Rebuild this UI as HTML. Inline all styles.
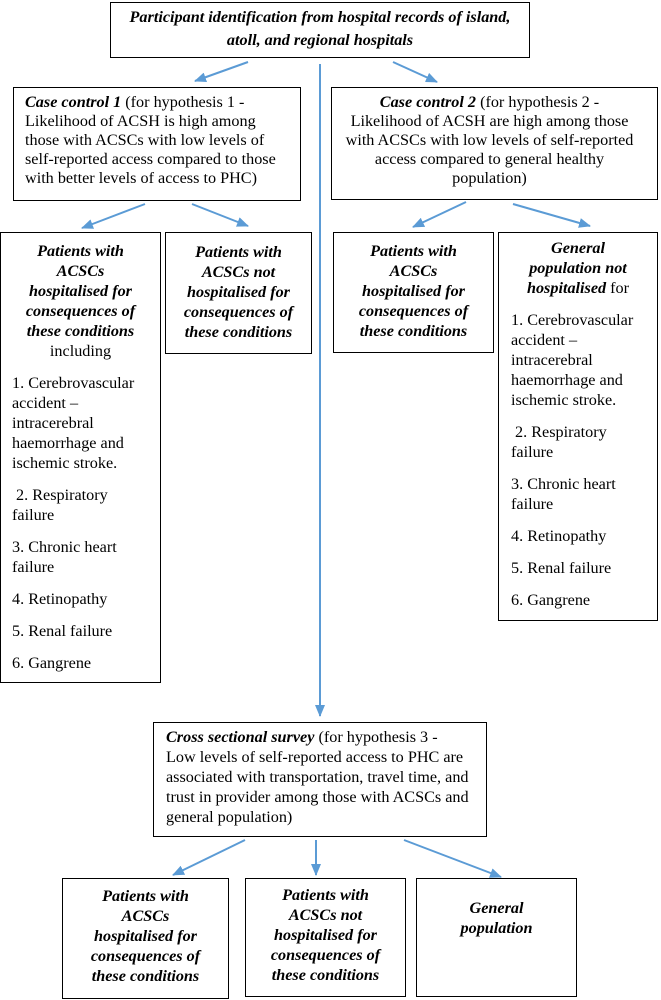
<!DOCTYPE html>
<html><head><meta charset="utf-8"><style>
body{margin:0;width:661px;height:1000px;position:relative;background:#fff;font-family:"Liberation Serif",serif;font-size:16.2px;color:#000;overflow:hidden}
.b{position:absolute;border:1.3px solid #000;box-sizing:border-box;line-height:20px;white-space:nowrap}
.c{text-align:center}
.bi{font-weight:bold;font-style:italic}
p{margin:0 0 12px 0}
svg{position:absolute;left:0;top:0}
</style></head><body>
<svg width="661" height="1000">
<defs><marker id="a" markerWidth="12" markerHeight="10" refX="11" refY="5" orient="auto" markerUnits="userSpaceOnUse"><path d="M0,0 L12,5 L0,10 z" fill="#5b9bd5"/></marker></defs>
<g stroke="#5b9bd5" stroke-width="2" fill="none" marker-end="url(#a)">
<line x1="248" y1="62" x2="195" y2="81"/>
<line x1="393" y1="62" x2="437" y2="82"/>
<line x1="320" y1="64" x2="320" y2="716"/>
<line x1="145" y1="204" x2="82" y2="228"/>
<line x1="192" y1="204" x2="248" y2="226"/>
<line x1="466" y1="202" x2="413" y2="227"/>
<line x1="513" y1="204" x2="590" y2="226"/>
<line x1="245" y1="840" x2="173" y2="875"/>
<line x1="316" y1="840" x2="316" y2="875"/>
<line x1="404" y1="840" x2="501" y2="877"/>
</g></svg>

<div class="b c bi" style="left:110px;top:2px;width:420px;height:56px;padding-top:3px;line-height:23px">Participant identification from hospital records of island,<br>atoll, and regional hospitals</div>

<div class="b" style="left:13px;top:87px;width:288px;height:114px;padding:5px 0 0 11px;line-height:19px"><span class="bi">Case control 1</span> (for hypothesis 1 -<br>Likelihood of ACSH is high among<br>those with ACSCs with low levels of<br>self-reported access compared to those<br>with better levels of access to PHC)</div>

<div class="b c" style="left:331px;top:87px;width:327px;height:113px;padding:5px 10px 0 0;line-height:19px"><span class="bi">Case control 2</span> (for hypothesis 2 -<br>Likelihood of ACSH are high among those<br>with ACSCs with low levels of self-reported<br>access compared to general healthy<br>population)</div>

<div class="b" style="left:0;top:232px;width:161px;height:451px;padding:8px 0 0 11px">
<p class="c" style="margin-left:-11px"><span class="bi">Patients with<br>ACSCs<br>hospitalised for<br>consequences of<br>these conditions</span><br>including</p>
<p>1. Cerebrovascular<br>accident –<br>intracerebral<br>haemorrhage and<br>ischemic stroke.</p>
<p>&nbsp;2. Respiratory<br>failure</p>
<p>3. Chronic heart<br>failure</p>
<p>4. Retinopathy</p>
<p>5. Renal failure</p>
<p>6. Gangrene</p></div>

<div class="b c bi" style="left:165px;top:232px;width:147px;height:122px;padding-top:9px">Patients with<br>ACSCs not<br>hospitalised for<br>consequences of<br>these conditions</div>

<div class="b c bi" style="left:333px;top:232px;width:161px;height:121px;padding-top:8px">Patients with<br>ACSCs<br>hospitalised for<br>consequences of<br>these conditions</div>

<div class="b" style="left:498px;top:232px;width:160px;height:389px;padding:5px 0 0 12px">
<p class="c" style="margin-left:-12px"><span class="bi">General<br>population not<br>hospitalised</span> for</p>
<p>1. Cerebrovascular<br>accident –<br>intracerebral<br>haemorrhage and<br>ischemic stroke.</p>
<p>&nbsp;2. Respiratory<br>failure</p>
<p>3. Chronic heart<br>failure</p>
<p>4. Retinopathy</p>
<p>5. Renal failure</p>
<p>6. Gangrene</p></div>

<div class="b" style="left:153px;top:722px;width:334px;height:115px;padding:4px 0 0 12px"><span class="bi">Cross sectional survey</span> (for hypothesis 3 -<br>Low levels of self-reported access to PHC are<br>associated with transportation, travel time, and<br>trust in provider among those with ACSCs and<br>general population)</div>

<div class="b c bi" style="left:62px;top:878px;width:167px;height:121px;padding-top:7px">Patients with<br>ACSCs<br>hospitalised for<br>consequences of<br>these conditions</div>

<div class="b c bi" style="left:245px;top:878px;width:161px;height:119px;padding-top:6px">Patients with<br>ACSCs not<br>hospitalised for<br>consequences of<br>these conditions</div>

<div class="b c bi" style="left:416px;top:878px;width:161px;height:119px;padding-top:19px">General<br>population</div>
</body></html>
